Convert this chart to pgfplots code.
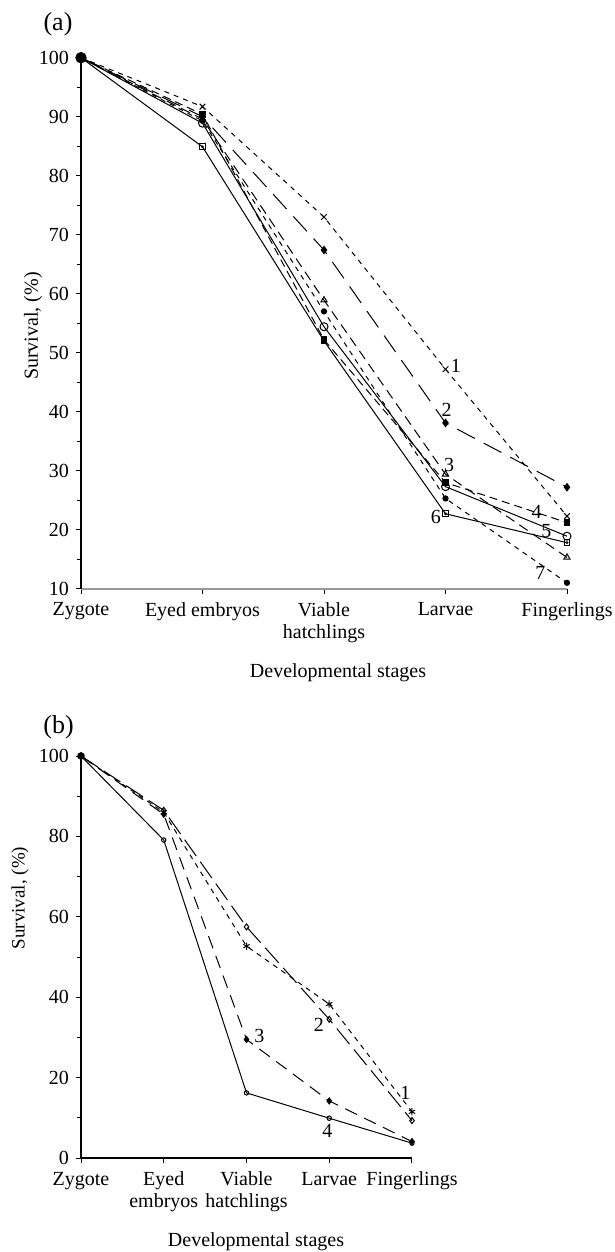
\documentclass[border=0pt]{standalone}
\usepackage{pgfplots}
\pgfplotsset{compat=1.18}
\usepackage{fontspec}
\setmainfont{Liberation Serif}
\begin{document}
\begin{tikzpicture}
\useasboundingbox (0pt,0pt) rectangle (307.5pt,-626pt);
\pgfplotsset{
  common/.style={
    scale only axis,
    axis x line*=bottom,
    axis y line*=left,
    xmin=0, xmax=4, xtick={0,1,2,3,4},
    tick align=outside,
    major tick length=2.5pt, minor tick length=2pt,
    tick style={black, line width=0.5pt},
    axis line style={line width=0.6pt},
    ticklabel style={font=\fontsize{10}{11}\selectfont},
    /pgf/number format/assume math mode=true,
    xticklabel style={align=center, yshift=-1pt},
    every axis plot/.append style={line width=0.5pt, black},
    clip=false,
  }
}
% ---------------- panel (a)
\begin{axis}[common,
  at={(40.5pt,-294.35pt)}, anchor=south west,
  width=243pt, height=265.5pt,
  ymin=10, ymax=100, ytick={10,20,...,100}, minor ytick={15,25,...,95},
  xticklabels={Zygote, Eyed embryos, {Viable\\hatchlings}, Larvae, Fingerlings},
  x axis line style={gray!80, line width=1pt},
]
\addplot[dash pattern=on 2.5pt off 2.5pt, mark=x, mark size=2pt, mark options={solid}]
  coordinates {(0,100)(1,91.7)(2,73.0)(3,47.2)(4,22.3)};
\addplot[dash pattern=on 10pt off 5pt, mark=diamond*, mark size=1.8pt, mark options={solid}]
  coordinates {(0,100)(1,90.0)(2,67.4)(3,38.1)(4,27.2)};
\addplot[dash pattern=on 5pt off 3pt, mark=triangle, mark size=1.8pt, mark options={solid}]
  coordinates {(0,100)(1,89.6)(2,58.9)(3,29.4)(4,15.3)};
\addplot[dash pattern=on 4pt off 2.5pt, mark=square*, mark size=1.4pt, mark options={solid}]
  coordinates {(0,100)(1,90.4)(2,52.2)(3,28.0)(4,21.2)};
\addplot[mark=o, mark size=2pt]
  coordinates {(0,100)(1,88.9)(2,54.4)(3,27.3)(4,18.9)};
\addplot[mark=square, mark size=1.4pt]
  coordinates {(0,100)(1,84.9)(2,52.0)(3,22.7)(4,17.8)};
\addplot[only marks, mark=*, mark size=0.4pt]
  coordinates {(1,84.9)(2,52.0)(3,22.7)(4,17.8)};
\addplot[dash pattern=on 2.5pt off 2.5pt, mark=*, mark size=1.3pt, mark options={solid}]
  coordinates {(0,100)(1,89.3)(2,57.0)(3,25.3)(4,11.0)};
\addplot[only marks, mark=*, mark size=2.6pt] coordinates {(0,100)};
\begin{scope}[font=\fontsize{10}{11}\selectfont]
\node at (axis cs:3.086,47.7) {1};
\node at (axis cs:3.01,40.3) {2};
\node at (axis cs:3.03,31.0) {3};
\node at (axis cs:3.75,23.0) {4};
\node at (axis cs:3.83,19.8) {5};
\node at (axis cs:2.92,22.2) {6};
\node at (axis cs:3.78,12.6) {7};
\end{scope}
\end{axis}
\node[font=\fontsize{13}{14}\selectfont] at (29pt,-12pt) {(a)};
\node[rotate=90, font=\fontsize{10}{11}\selectfont] at (16.5pt,-163pt) {Survival, (\%)};
\node[font=\fontsize{10}{11}\selectfont] at (169pt,-336.5pt) {Developmental stages};
% ---------------- panel (b)
\begin{axis}[common,
  at={(40.5pt,-579pt)}, anchor=south west,
  width=165.5pt, height=201pt,
  ymin=0, ymax=100, ytick={0,20,...,100}, minor ytick={10,30,...,90},
  xticklabels={Zygote, {Eyed\\embryos}, {Viable\\hatchlings}, Larvae, Fingerlings},
]
\addplot[dash pattern=on 2.5pt off 2.5pt, mark=asterisk, mark size=1.8pt, mark options={solid}]
  coordinates {(0,100)(1,86.0)(2,52.7)(3,38.3)(4,11.5)};
\addplot[dash pattern=on 10pt off 3.5pt, mark=diamond, mark size=1.5pt, mark options={solid}]
  coordinates {(0,100)(1,86.5)(2,57.5)(3,34.5)(4,9.3)};
\addplot[dash pattern=on 6.5pt off 4pt, mark=diamond*, mark size=1.5pt, mark options={solid}]
  coordinates {(0,100)(1,85.5)(2,29.5)(3,14.2)(4,4.1)};
\addplot[mark=o, mark size=1.1pt]
  coordinates {(0,100)(1,79.1)(2,16.2)(3,9.9)(4,3.7)};
\addplot[only marks, mark=*, mark size=1.6pt] coordinates {(0,100)};
\begin{scope}[font=\fontsize{10}{11}\selectfont]
\node at (axis cs:3.92,16.1) {1};
\node at (axis cs:2.876,33.0) {2};
\node at (axis cs:2.155,30.3) {3};
\node at (axis cs:2.977,6.8) {4};
\end{scope}
\end{axis}
\node[font=\fontsize{13}{14}\selectfont] at (29.25pt,-363.5pt) {(b)};
\node[rotate=90, font=\fontsize{9.5}{10.5}\selectfont] at (10pt,-449pt) {Survival, (\%)};
\node[font=\fontsize{10}{11}\selectfont] at (128pt,-621pt) {Developmental stages};
\end{tikzpicture}
\end{document}
